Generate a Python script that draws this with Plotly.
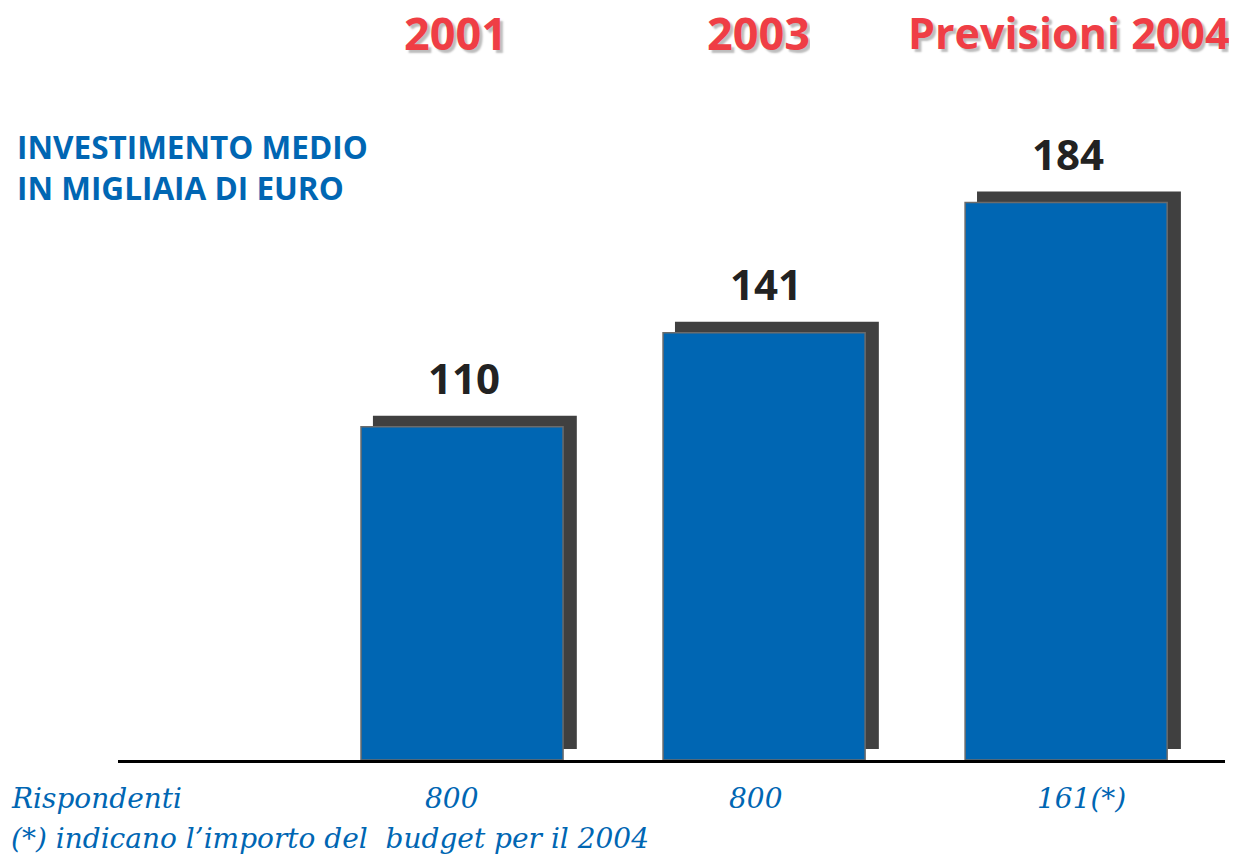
import plotly.graph_objects as go

# data
categories = ["2001", "2003", "Previsioni 2004"]
values = [110, 141, 184]
respondents = ["800", "800", "161(*)"]

# the page has an 8px body margin, so page pixel = figure pixel + 8
OFF = 8
W, H = 1237, 855
px_per_unit = 3.03
pos = list(range(len(categories)))

ml, mr, mt, mb = 118 - OFF, W - (1225 - OFF), 0, H - (760 - OFF)
plot_h = H - mt - mb

fig = go.Figure()

# dark shadow behind each bar, shifted right and up
fig.add_trace(
    go.Bar(
        x=pos, y=values, base=11 / px_per_unit,
        width=0.675, offset=-0.295,
        marker=dict(color="#404040", line=dict(width=0)),
        hoverinfo="skip", showlegend=False
    )
)

fig.add_trace(
    go.Bar(
        x=pos, y=values,
        width=0.669, offset=-0.3345,
        marker=dict(color="#0066b3", line=dict(color="#6b6b6b", width=1.5)),
        showlegend=False
    )
)

font = "Open Sans, Arial, sans-serif"
serif = "DejaVu Serif, Liberation Serif, serif"
blue = "#0066b3"

annotations = []
for i, (cat, v, r) in enumerate(zip(categories, values, respondents)):
    # value labels
    annotations.append(dict(
        x=i, y=v, xref="x", yref="y", text="<b>%d</b>" % v, showarrow=False,
        yanchor="middle", yshift=49, xshift=2,
        font=dict(family=font, size=42, color="#222222")
    ))
    # red headers with grey shadow
    annotations.append(dict(
        x=i, y=1, xref="x", yref="paper", text="<b>%s</b>" % cat,
        showarrow=False, yanchor="middle", yshift=-(32 - OFF), height=46,
        xshift=[-7, -6, 3][i],
        font=dict(family=font, size=[45, 45, 43][i], color="#ef3e45",
                  shadow="3px 3px 2px #bdbdbd")
    ))
    # respondents under the axis
    annotations.append(dict(
        x=i, y=0, xref="x", yref="paper", text="<i>%s</i>" % r, showarrow=False,
        yanchor="middle", yshift=-38, xshift=[-11, -9, 15][i],
        font=dict(family=serif, size=28, color=blue)
    ))

fig.update_layout(
    width=W,
    height=H,
    margin=dict(l=ml, r=mr, t=mt, b=mb),
    paper_bgcolor="white",
    plot_bgcolor="white",
    barmode="overlay",
    xaxis=dict(
        range=[-1.139, 2.526], showgrid=False, zeroline=False,
        showticklabels=False, showline=True, linecolor="black", linewidth=2.5,
        fixedrange=True
    ),
    yaxis=dict(
        range=[0, plot_h / px_per_unit], showgrid=False, zeroline=False,
        showticklabels=False, showline=False, fixedrange=True
    ),
    annotations=annotations,
)


# title block and footnotes, placed in page pixels
def page_text(text, x_px, y_px, size, family, color):
    fig.add_annotation(
        x=(x_px - OFF - ml) / (W - ml - mr), y=(H - mb - (y_px - OFF)) / plot_h,
        xref="paper", yref="paper", xanchor="left", yanchor="middle",
        text=text, showarrow=False, align="left",
        font=dict(family=family, size=size, color=color)
    )


page_text("<b>INVESTIMENTO MEDIO<br>IN MIGLIAIA DI EURO</b>", 15, 167, 31.5, font, blue)
page_text("<i>Rispondenti</i>", 9, 798, 28, serif, blue)
page_text("<i>(*) indicano l’importo del  budget per il 2004</i>", 9, 838, 28, serif, blue)

fig.write_html("out.html")
